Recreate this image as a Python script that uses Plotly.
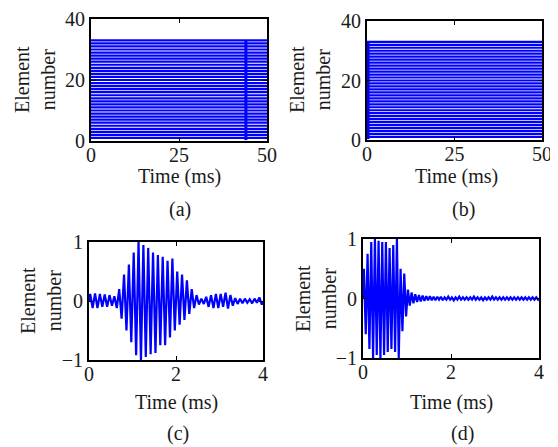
import plotly.graph_objects as go

# page body has an 8px default margin; figure is sized / positioned to compensate
OFF = 8
W, H = 558 - OFF, 447 - OFF

# ---------------- data ----------------
elements = list(range(1, 34))              # element numbers drawn in (a) and (b)
time_a_range = [0, 50]                     # ms
event_a_t = [44.0]                         # dense event column in (a)
event_b_t = [0.3]                          # dense event column in (b)

# (c) alternating extrema, 9 cycles per ms
c_cycles_per_ms = 9
c_pos = [0.12, 0.13, 0.12, 0.11, 0.10, 0.08, 0.20, 0.45, 0.62, 0.82, 1.00, 0.95,
         0.90, 0.82, 0.78, 0.75, 0.68, 0.72, 0.50, 0.45, 0.35, 0.20, 0.10, 0.04,
         0.07, 0.10, 0.12, 0.12, 0.14, 0.10, 0.05, 0.04, 0.04, 0.03, 0.04, 0.06]
c_neg = [-0.12, -0.12, -0.10, -0.10, -0.08, -0.12, -0.30, -0.50, -0.70, -0.92, -1.00, -0.95,
         -0.90, -0.88, -0.75, -0.75, -0.62, -0.50, -0.40, -0.32, -0.22, -0.12, -0.06, -0.05,
         -0.10, -0.12, -0.12, -0.10, -0.13, -0.08, -0.05, -0.04, -0.03, -0.04, -0.03, -0.06]

# (d) alternating extrema, 12 cycles per ms
d_cycles_per_ms = 12
d_pos = [0.50, 0.75, 0.95, 1.00, 0.97, 0.95, 0.95, 0.85, 0.90, 1.00, 0.50, 0.42,
         0.15, 0.10, 0.07, 0.06, 0.05, 0.04, 0.04, 0.03, 0.03, 0.03, 0.02, 0.03,
         0.02, 0.02, 0.03, 0.02, 0.02, 0.02, 0.03, 0.02, 0.02, 0.02, 0.02, 0.03,
         0.02, 0.02, 0.02, 0.02, 0.02, 0.02, 0.02, 0.02, 0.02, 0.02, 0.02, 0.02]
d_neg = [-0.60, -0.85, -1.00, -0.95, -1.00, -0.95, -0.90, -0.85, -0.90, -1.00, -0.55, -0.30,
         -0.12, -0.08, -0.06, -0.05, -0.04, -0.03, -0.03, -0.03, -0.02, -0.03, -0.02, -0.02,
         -0.03, -0.02, -0.02, -0.02, -0.02, -0.02, -0.02, -0.02, -0.03, -0.02, -0.02, -0.02,
         -0.02, -0.02, -0.02, -0.02, -0.02, -0.02, -0.02, -0.02, -0.02, -0.02, -0.02, -0.02]

BLUE = "#0000FF"
FONT = "Liberation Serif, Times New Roman, serif"
FS = 20
TXT = "#1a1a1a"


def zigzag(pos, neg, cpm):
    t, y = [0.0], [0.0]
    for k, (p, n) in enumerate(zip(pos, neg)):
        t += [(k + 0.25) / cpm, (k + 0.75) / cpm]
        y += [p, n]
    t.append(len(pos) / cpm)
    y.append(0.0)
    return t, y


def rows(elems, t0, t1):
    xs, ys = [], []
    for e in elems:
        xs += [t0, t1, None]
        ys += [e, e, None]
    return xs, ys


fig = go.Figure()

# (a)
xs, ys = rows(elements, time_a_range[0], time_a_range[1])
fig.add_trace(go.Scatter(x=xs, y=ys, mode="lines", line=dict(color=BLUE, width=2.2),
                         xaxis="x", yaxis="y", hoverinfo="skip"))
for t in event_a_t:
    fig.add_trace(go.Scatter(x=[t, t], y=[0.3, max(elements)], mode="lines",
                             line=dict(color=BLUE, width=3), xaxis="x", yaxis="y"))
# (b)
fig.add_trace(go.Scatter(x=xs, y=ys, mode="lines", line=dict(color=BLUE, width=2.2),
                         xaxis="x2", yaxis="y2", hoverinfo="skip"))
for t in event_b_t:
    fig.add_trace(go.Scatter(x=[t, t], y=[0.3, max(elements)], mode="lines",
                             line=dict(color=BLUE, width=3), xaxis="x2", yaxis="y2"))
# (c)
tc, yc = zigzag(c_pos, c_neg, c_cycles_per_ms)
fig.add_trace(go.Scatter(x=tc, y=yc, mode="lines", line=dict(color=BLUE, width=2.2),
                         xaxis="x3", yaxis="y3"))
# (d)
td, yd = zigzag(d_pos, d_neg, d_cycles_per_ms)
fig.add_trace(go.Scatter(x=td, y=yd, mode="lines", line=dict(color=BLUE, width=2.2),
                         xaxis="x4", yaxis="y4"))


def fx(px):
    return (px - OFF) / W


def fy(py):
    return 1 - (py - OFF) / H


axis_common = dict(showline=True, linecolor="black", linewidth=2, mirror="allticks",
                   ticks="inside", ticklen=4, tickwidth=1, tickcolor="black",
                   showgrid=False, zeroline=False, automargin=False,
                   tickfont=dict(family=FONT, size=FS, color=TXT))

boxes = {
    "": dict(x=(91, 267), y=(19, 141), xr=[0, 50], xt=[0, 25, 50], yr=[0, 40], yt=[0, 20, 40]),
    "2": dict(x=(367, 542), y=(21, 140), xr=[0, 50], xt=[0, 25, 50], yr=[0, 40], yt=[0, 20, 40]),
    "3": dict(x=(89, 263), y=(242, 360), xr=[0, 4], xt=[0, 2, 4], yr=[-1, 1], yt=[-1, 0, 1]),
    "4": dict(x=(363, 539), y=(239, 358), xr=[0, 4], xt=[0, 2, 4], yr=[-1, 1], yt=[-1, 0, 1]),
}

layout = dict(width=W, height=H, margin=dict(l=0, r=0, t=0, b=0, autoexpand=False),
              paper_bgcolor="white", plot_bgcolor="white", showlegend=False)
for k, b in boxes.items():
    layout["xaxis" + k] = dict(axis_common, domain=[fx(b["x"][0]), fx(b["x"][1])],
                               range=b["xr"], tickvals=b["xt"], anchor="y" + k,
                               ticklabelstandoff=-5)
    layout["yaxis" + k] = dict(axis_common, domain=[fy(b["y"][1]), fy(b["y"][0])],
                               range=b["yr"], tickvals=b["yt"], anchor="x" + k)
fig.update_layout(**layout)

ann = []
ytitles = [(35, 80), (310, 80), (41, 301), (316, 299)]
for (x, y) in ytitles:
    ann.append(dict(x=fx(x), y=fy(y), xref="paper", yref="paper", text="Element<br>number",
                    textangle=-90, showarrow=False, xanchor="center", yanchor="middle",
                    font=dict(family=FONT, size=FS, color=TXT)))
xtitles = [(179, 177), (456, 177), (176, 402), (451, 402)]
for (x, y) in xtitles:
    ann.append(dict(x=fx(x), y=fy(y), xref="paper", yref="paper", text="Time (ms)",
                    showarrow=False, xanchor="center", yanchor="middle",
                    font=dict(family=FONT, size=FS, color=TXT)))
labels = [("(a)", 180, 209), ("(b)", 463, 209), ("(c)", 178, 433), ("(d)", 462, 433)]
for (s, x, y) in labels:
    ann.append(dict(x=fx(x), y=fy(y), xref="paper", yref="paper", text=s,
                    showarrow=False, xanchor="center", yanchor="middle",
                    font=dict(family=FONT, size=FS, color=TXT)))
fig.update_layout(annotations=ann)

fig.write_html("out.html")
